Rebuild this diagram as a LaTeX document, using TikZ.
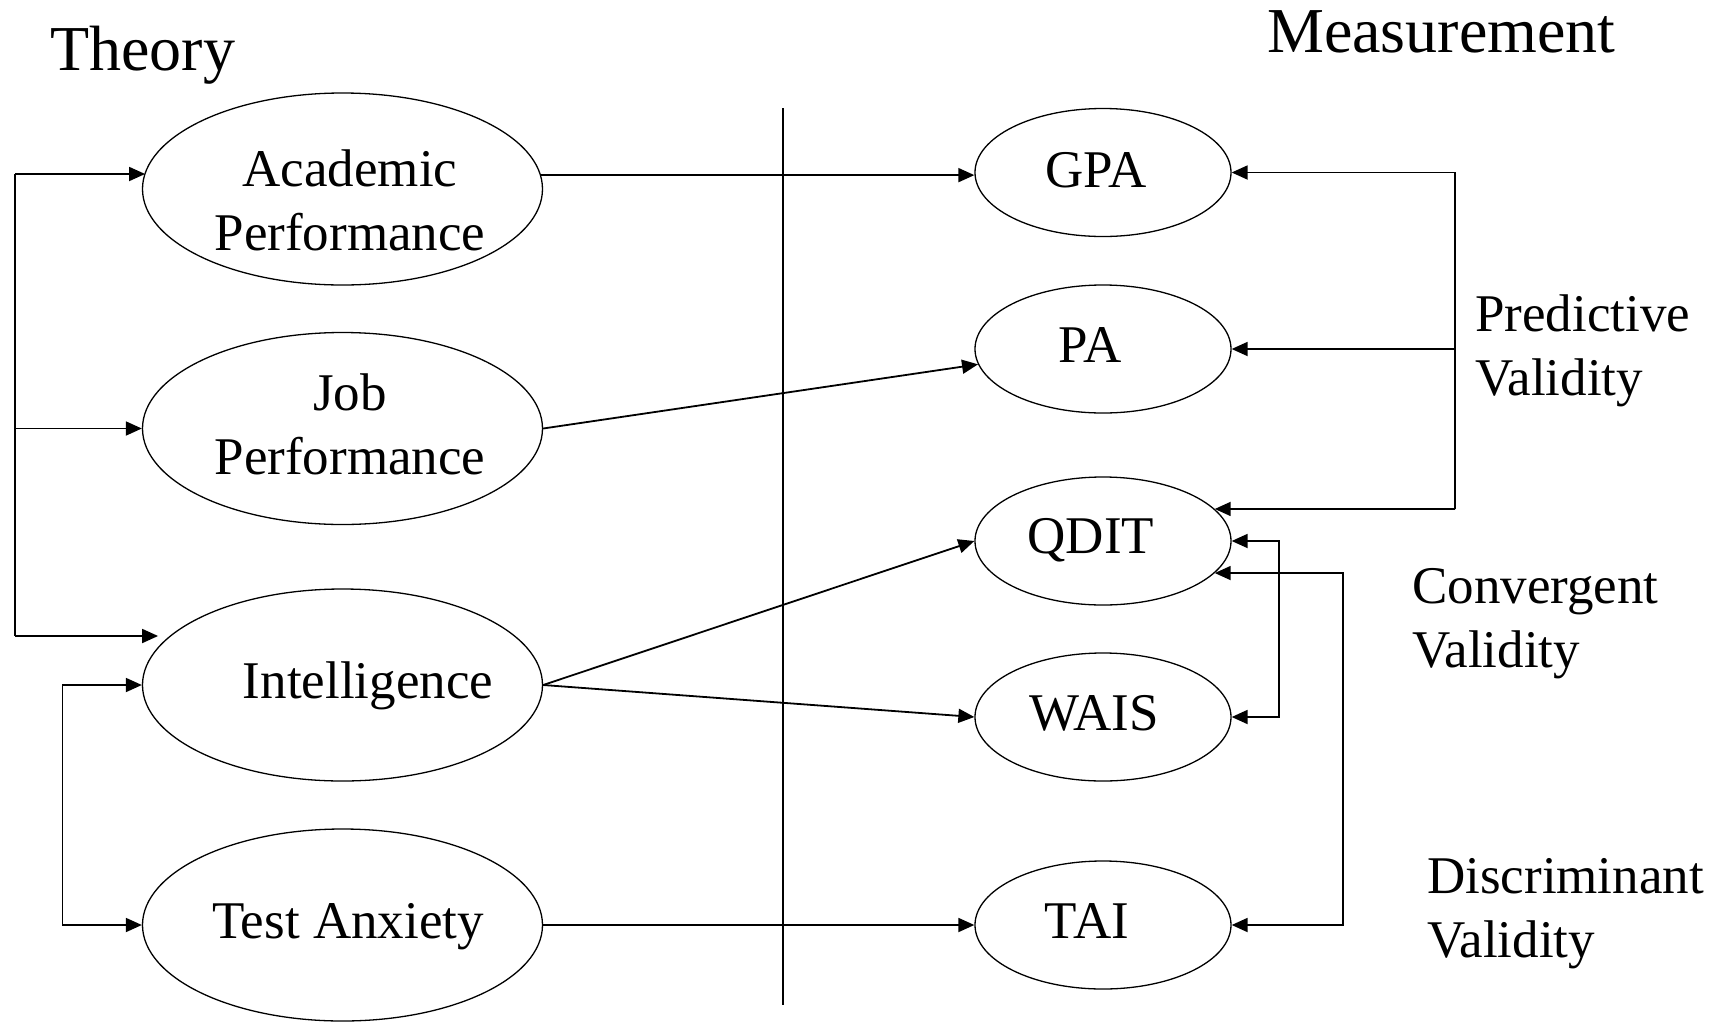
\documentclass[tikz,border=0pt]{standalone}
\usepackage{fontspec}
\setmainfont{Liberation Serif}
\usetikzlibrary{arrows.meta,shapes.geometric}
\begin{document}
\begin{tikzpicture}[x=1pt,y=-1pt,
  big/.style={ellipse,draw,line width=1.3pt,minimum width=400pt,minimum height=192pt,inner sep=0pt},
  small/.style={ellipse,draw,line width=1.3pt,minimum width=256pt,minimum height=128pt,inner sep=0pt},
  txt/.style={font=\fontsize{53}{64}\selectfont,inner sep=0pt,anchor=base},
  mtxt/.style={font=\fontsize{53}{64}\selectfont,inner sep=0pt,anchor=base,text width=340pt,align=center},
  side/.style={font=\fontsize{53}{64}\selectfont,inner sep=0pt,anchor=base west,text width=300pt,align=left},
  title/.style={font=\fontsize{64}{77}\selectfont,inner sep=0pt,anchor=base west},
  conn/.style={line width=1.8pt,-{Triangle[length=16pt,width=14pt]}},
  dconn/.style={line width=1.8pt,{Triangle[length=16pt,width=14pt]}-{Triangle[length=16pt,width=14pt]}},
  plain/.style={line width=1.8pt}
]
\useasboundingbox (0,0) rectangle (1725,1026);

% titles
\node[title] (theory) at (50,70) {Theory};
\node[title] (meas) at (1267,52) {Measurement};

% divider
\coordinate (dtop) at (783,108);
\coordinate (dbot) at (783,1005);
\draw[line width=2pt] (dtop) -- (dbot);

% theory ellipses
\node[big] (acad) at (342.5,189) {};
\node[big] (job) at (342.5,428.5) {};
\node[big] (intel) at (342.5,685) {};
\node[big] (ta) at (342.5,925) {};
\node[mtxt] (acadt) at (350,186) {Academic\\Performance};
\node[mtxt] (jobt) at (350,410) {Job\\Performance};
\node[txt] (intelt) at (368,698) {Intelligence};
\node[txt] (tat) at (348,938) {Test Anxiety};

% measurement ellipses
\node[small] (gpa) at (1103,172.5) {};
\node[small] (pa) at (1103,349) {};
\node[small] (qdit) at (1103,541) {};
\node[small] (wais) at (1103,717) {};
\node[small] (tai) at (1103,925) {};
\node[txt] (gpat) at (1096,187) {GPA};
\node[txt] (pat) at (1090,362) {PA};
\node[txt] (qditt) at (1091,553) {QDIT};
\node[txt] (waist) at (1094,730) {WAIS};
\node[txt] (tait) at (1087,938) {TAI};

% side labels
\node[side] (pred) at (1475,331) {Predictive\\Validity};
\node[side] (conv) at (1412,603) {Convergent\\Validity};
\node[side] (disc) at (1427,893) {Discriminant\\Validity};

% theory -> measurement
\draw[conn] (acad.4.6) -- (gpa.west |- acad.4.6);
\draw[conn] (job.east) -- (pa.187);
\draw[conn] (intel.east) -- (qdit.west);
\draw[conn] (intel.east) -- (wais.west);
\draw[conn] (ta.east) -- (tai.west);

% left bracket (theory links)
\coordinate (lt) at (15,174);
\coordinate (lb) at (15,636);
\draw[plain] (lt) -- (lb);
\draw[conn] (lt) -- (lt -| acad.175.7);
\draw[conn] (lb |- job.west) -- (job.west);
\draw[conn,shorten >=12pt] (lb) -- (lb -| intel.164);
\coordinate (l2) at (62.5,925);
\draw[dconn] (intel.west) -| (l2) |- (ta.west);

% predictive validity bracket
\coordinate (pr) at (1455,509);
\draw[dconn] (gpa.east) -| (pr) |- (qdit.16);
\draw[conn] (pa.east -| pr) -- (pa.east);

% convergent validity bracket
\coordinate (cv) at (1279,717);
\draw[dconn] (qdit.east) -| (cv) |- (wais.east);

% discriminant validity bracket
\coordinate (dv) at (1343,925);
\draw[dconn] (qdit.-16) -| (dv) |- (tai.east);
\end{tikzpicture}
\end{document}
